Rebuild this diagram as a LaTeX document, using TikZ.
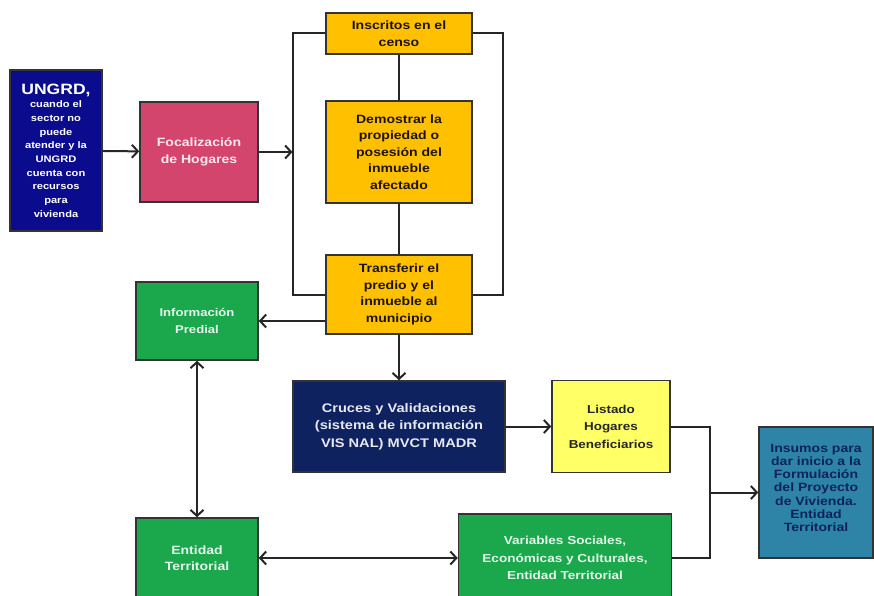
\documentclass[tikz,border=0pt]{standalone}
\usepackage{fontspec}
\setmainfont{Liberation Sans}[FakeStretch=1.17]
\usetikzlibrary{arrows.meta}
\definecolor{uNavy}{HTML}{0B0B8E}
\definecolor{fPink}{HTML}{D4456E}
\definecolor{pOrange}{HTML}{FFC000}
\definecolor{eGreen}{HTML}{1BA84C}
\definecolor{cNavy}{HTML}{0F2260}
\definecolor{lYellow}{HTML}{FFFF66}
\definecolor{iTeal}{HTML}{2E84A6}

\begin{document}
\begin{tikzpicture}[x=1pt, y=-1pt,
    box/.style={draw=black!80, line width=1.5pt, inner sep=0pt, align=center,
      font=\bfseries\fontsize{12}{16.5}\selectfont},
    link/.style={line width=2pt, draw=black!85},
    arr/.style={link, -{Straight Barb[length=6pt, width=13pt, line width=2pt]}},
    darr/.style={link, {Straight Barb[length=6pt, width=13pt, line width=2pt]}-{Straight Barb[length=6pt, width=13pt, line width=2pt]}}]
  \useasboundingbox (0,0) rectangle (874,596);

  \node[box, fill=uNavy, text=white, minimum width=92pt, minimum height=161pt,
    font=\bfseries\fontsize{9.5}{13.7}\selectfont] (ungrd) at (56,150.5)
    {{\fontsize{15}{17}\selectfont UNGRD,}\\cuando el\\sector no\\puede\\atender  y la\\UNGRD\\cuenta con\\recursos\\para\\vivienda};
  \node[box, fill=fPink, text=white!88!fPink, minimum width=118pt, minimum height=100pt] (foc) at (199,152)
    {Focalización\\de Hogares};

  \node[box, fill=pOrange, text=black!85!brown, minimum width=146pt, minimum height=41pt] (ins) at (399,33.5)
    {Inscritos en el\\censo};
  \node[box, fill=pOrange, text=black!85!brown, minimum width=146pt, minimum height=102pt] (dem) at (399,152)
    {Demostrar la\\propiedad o\\posesión del\\inmueble\\afectado};
  \node[box, fill=pOrange, text=black!85!brown, minimum width=146pt, minimum height=79pt] (tra) at (399,294.5)
    {Transferir el\\predio y el\\inmueble al\\municipio};

  \node[box, fill=eGreen, text=white!88!eGreen, minimum width=122pt, minimum height=78pt,
    font=\bfseries\fontsize{11.2}{17}\selectfont] (pred) at (197,321)
    {Información\\Predial};
  \node[box, fill=cNavy, text=white!90!cNavy, minimum width=212pt, minimum height=91pt,
    font=\bfseries\fontsize{12.5}{17.6}\selectfont] (cru) at (399,426.5)
    {Cruces y Validaciones\\(sistema de información\\VIS NAL) MVCT MADR};
  \node[box, fill=lYellow, text=black!85, minimum width=118pt, minimum height=92pt,
    font=\bfseries\fontsize{11.5}{17.5}\selectfont] (lis) at (611,426.5)
    {Listado\\Hogares\\Beneficiarios};
  \node[box, fill=iTeal, text=cNavy, minimum width=114pt, minimum height=131pt,
    font=\bfseries\fontsize{12}{13.3}\selectfont] (insu) at (816,492.5)
    {Insumos para\\dar inicio a la\\Formulación\\del Proyecto\\de Vivienda.\\Entidad\\Territorial\\[-4pt]};
  \node[box, fill=eGreen, text=white!88!eGreen, minimum width=122pt, minimum height=80pt] (ent) at (197,558)
    {Entidad\\Territorial};
  \node[box, fill=eGreen, text=white!88!eGreen, minimum width=213pt, minimum height=88pt,
    font=\bfseries\fontsize{11.6}{17.5}\selectfont] (var) at (565,558)
    {Variables Sociales,\\Económicas y Culturales,\\Entidad Territorial};

  \coordinate (brk) at (292.5,152);
  \coordinate (join) at (710,492.5);

  \draw[arr] (ungrd) -- (foc);
  \draw[arr] (foc) -- (brk);
  \draw[link] (ins.west) -| (brk) |- (tra.west);
  \draw[link] (ins.east) -- ++(30.5,0) |- (tra.east);
  \draw[link] (ins) -- (dem);
  \draw[link] (dem) -- (tra);
  \draw[arr] (tra.west |- pred) -- (pred);
  \draw[arr] (tra) -- (cru);
  \draw[darr] (pred) -- (ent);
  \draw[darr] (ent) -- (var);
  \draw[arr] (cru) -- (lis);
  \draw[link] (lis.east) -| (join) |- (var.east);
  \draw[arr] (join) -- (insu);
\end{tikzpicture}
\end{document}
